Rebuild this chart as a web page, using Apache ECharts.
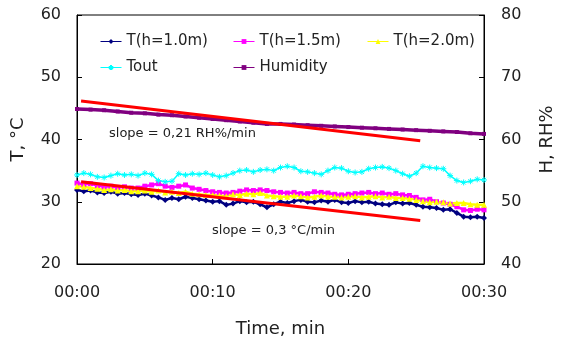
<!DOCTYPE html>
<html><head><meta charset="utf-8">
<script src="https://cdn.jsdelivr.net/npm/echarts@6/dist/echarts.min.js"></script>
<style>html,body{margin:0;padding:0;background:#fff}#c{width:564px;height:343px}</style>
</head><body><div id="c"></div>
<script>
// time in minutes, 0.5-min steps for temperatures
var tStep = 0.5;
var t1 = [31.9,31.7,31.8,31.5,31.4,31.6,31.3,31.4,31.2,31.1,31.3,31.0,30.7,30.3,30.6,30.4,30.8,30.6,30.4,30.2,30.0,30.1,29.5,29.7,30.1,29.9,30.0,29.6,29.1,29.6,30.0,29.8,30.1,30.3,30.0,29.9,30.2,30.0,30.3,29.9,29.8,30.1,29.9,30.0,29.7,29.6,29.5,29.9,29.7,29.8,29.5,29.2,29.1,29.0,28.7,28.8,28.2,27.6,27.5,27.6,27.4];
var t15 = [33.0,32.8,32.9,32.6,32.4,32.5,32.3,32.4,32.2,32.2,32.5,32.7,32.9,32.5,32.3,32.5,32.7,32.2,32.0,31.8,31.6,31.5,31.4,31.5,31.7,31.9,31.8,31.9,31.8,31.6,31.5,31.4,31.5,31.3,31.3,31.6,31.5,31.4,31.2,31.1,31.2,31.3,31.4,31.5,31.3,31.4,31.2,31.3,31.1,31.0,30.7,30.3,30.4,30.0,29.8,29.6,29.2,28.7,28.6,28.8,28.7];
var t20 = [32.5,32.4,32.2,32.1,31.9,32.0,31.8,31.9,31.7,31.7,31.8,31.6,31.8,31.5,31.6,31.4,31.6,31.3,31.2,31.1,31.1,31.0,30.9,31.2,31.1,31.3,31.2,31.4,31.0,30.9,30.8,30.8,31.0,30.9,30.7,30.8,31.0,30.8,30.8,30.7,30.8,30.9,30.7,30.8,30.9,30.7,30.8,30.6,30.6,30.5,30.3,30.1,29.9,30.0,29.9,29.7,29.8,29.8,29.6,29.5,29.5];
var tout = [34.3,34.6,34.4,34.0,33.9,34.2,34.5,34.3,34.4,34.2,34.6,34.4,33.4,33.2,33.3,34.5,34.3,34.5,34.4,34.6,34.3,34.0,34.2,34.6,35.0,35.1,34.8,35.1,35.2,35.0,35.5,35.7,35.5,34.9,34.8,34.6,34.4,35.0,35.5,35.4,34.9,34.7,34.8,35.3,35.5,35.6,35.4,35.0,34.5,34.1,34.6,35.7,35.5,35.4,35.3,34.2,33.4,33.1,33.3,33.6,33.5];
// humidity, 1-min steps
var hStep = 1;
var hum = [64.9,64.8,64.7,64.5,64.3,64.2,64.0,63.9,63.7,63.5,63.3,63.1,62.9,62.7,62.5,62.5,62.4,62.3,62.2,62.1,62.0,61.9,61.8,61.7,61.6,61.5,61.4,61.3,61.2,61.0,60.9];
// linear fit lines [minute, value]
var fitT = [[0.3, 33.2],[25.3, 27.0]];
var fitH = [[0.3, 66.2],[25.3, 59.8]];
var names = ['T(h=1.0m)','T(h=1.5m)','T(h=2.0m)','Tout','Humidity'];
var slopeT = 'slope = 0,3 °C/min';
var slopeH = 'slope = 0,21 RH%/min';

function pair(arr, step){ return arr.map(function(v,i){ return [i*step, v]; }); }
var FONT = 'DejaVu Sans';
var chart = echarts.init(document.getElementById('c'));
function leg(name, left, top){
  return {data:[name], left:left, top:top, itemWidth:21, itemHeight:6, itemGap:0,
    lineStyle:{width:1},
    textStyle:{fontFamily:FONT, fontSize:15, color:'#222'}, padding:0};
}
var option = {
  animation:false,
  backgroundColor:'#fff',
  grid:{left:77, right:65, top:15, bottom:79, show:true, borderColor:'#000', borderWidth:1},
  legend:[leg(names[0],100,34), leg(names[1],233,34), leg(names[2],367,34), leg(names[3],100,60), leg(names[4],233,60)],
  xAxis:{type:'value', min:0, max:30, interval:10,
    name:'Time, min', nameLocation:'middle', nameGap:56,
    nameTextStyle:{fontFamily:FONT, fontSize:18, color:'#222'},
    axisLine:{lineStyle:{color:'#000'}}, axisTick:{inside:true, length:5, lineStyle:{color:'#000'}},
    axisLabel:{fontFamily:FONT, fontSize:16, color:'#222', margin:21, formatter:function(v){return '00:' + (v<10?'0':'') + v;}},
    splitLine:{show:false}},
  yAxis:[
    {type:'value', min:20, max:60, interval:10, position:'left',
     name:'T, °C', nameLocation:'middle', nameGap:50, nameRotate:90,
     nameTextStyle:{fontFamily:FONT, fontSize:18, color:'#222'},
     axisLine:{show:true, lineStyle:{color:'#000'}}, axisTick:{show:true, inside:true, length:5, lineStyle:{color:'#000'}},
     axisLabel:{fontFamily:FONT, fontSize:16, color:'#222', margin:16}, splitLine:{show:false}},
    {type:'value', min:40, max:80, interval:10, position:'right',
     name:'H, RH%', nameLocation:'middle', nameGap:54, nameRotate:90,
     nameTextStyle:{fontFamily:FONT, fontSize:18, color:'#222'},
     axisLine:{show:true, lineStyle:{color:'#000'}}, axisTick:{show:true, inside:true, length:5, lineStyle:{color:'#000'}},
     axisLabel:{fontFamily:FONT, fontSize:16, color:'#222', margin:17}, splitLine:{show:false}}
  ],
  series:[
    {name:names[0], type:'line', data:pair(t1,tStep), color:'#000080', symbol:'diamond', symbolSize:6, lineStyle:{width:2.5}},
    {name:names[1], type:'line', data:pair(t15,tStep), color:'#FF00FF', symbol:'rect', symbolSize:5, lineStyle:{width:2.5}},
    {name:names[2], type:'line', data:pair(t20,tStep), color:'#FFFF00', symbol:'triangle', symbolSize:6, lineStyle:{width:2.5}},
    {name:names[3], type:'line', data:pair(tout,tStep), color:'#00FFFF', symbol:'path://M5,0L5,10M0,5L10,5M1.5,1.5L8.5,8.5M8.5,1.5L1.5,8.5', symbolSize:6,
      itemStyle:{color:'#00FFFF', borderColor:'#00FFFF', borderWidth:1}, lineStyle:{width:1.5}},
    {name:names[4], type:'line', yAxisIndex:1, data:pair(hum,hStep), color:'#800080', symbol:'rect', symbolSize:4, lineStyle:{width:3.5}},
    {name:'fitT', type:'line', data:fitT, color:'#FF0000', showSymbol:false, symbol:'none', lineStyle:{width:3}, z:5},
    {name:'fitH', type:'line', yAxisIndex:1, data:fitH, color:'#FF0000', showSymbol:false, symbol:'none', lineStyle:{width:3}, z:5}
  ],
  graphic:[
    {type:'text', left:109, top:127, style:{text:slopeH, font:'13px "DejaVu Sans"', fill:'#222'}},
    {type:'text', left:212, top:224, style:{text:slopeT, font:'13px "DejaVu Sans"', fill:'#222'}}
  ]
};
chart.setOption(option);
</script></body></html>
